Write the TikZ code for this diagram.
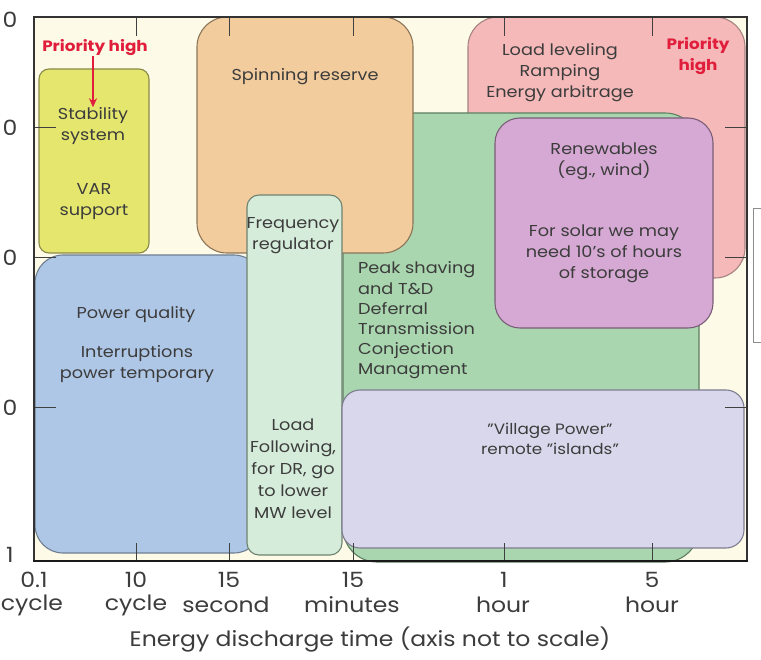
\documentclass[tikz,border=0pt]{standalone}
\usepackage{fontspec}
\setmainfont{Poppins}[FakeStretch=1.12]
\usetikzlibrary{arrows.meta}
\definecolor{bgc}{HTML}{FDFBE7}
\definecolor{yelf}{HTML}{E5E66E}\definecolor{yeld}{HTML}{8A8A48}
\definecolor{orgf}{HTML}{F3CC9E}\definecolor{orgd}{HTML}{8C7458}
\definecolor{pnkf}{HTML}{F5B9B9}\definecolor{pnkd}{HTML}{A68282}
\definecolor{grnf}{HTML}{A9D6AE}\definecolor{grnd}{HTML}{5E7E62}
\definecolor{purf}{HTML}{D5A9D3}\definecolor{purd}{HTML}{7A5E78}
\definecolor{bluf}{HTML}{AFC7E6}\definecolor{blud}{HTML}{6E7E92}
\definecolor{frqf}{HTML}{D6ECDA}\definecolor{frqd}{HTML}{6E8270}
\definecolor{vilf}{HTML}{D9D7EB}\definecolor{vild}{HTML}{7E7C90}
\definecolor{txt}{HTML}{3C3C3C}
\definecolor{prio}{HTML}{E01E3C}
\begin{document}
\begin{tikzpicture}[x=1pt,y=-1pt,
  region/.style={line width=1.1pt},
  lbl/.style={text=txt,inner sep=0pt,align=center,font=\fontsize{15.8}{21}\selectfont},
  prilbl/.style={text=prio,inner sep=0pt,align=center,font=\bfseries\fontsize{15}{21}\selectfont},
  axnum/.style={text=txt,inner sep=0pt,font=\fontsize{21}{24}\selectfont},
  tick/.style={line width=1pt,draw=black!75}]
\useasboundingbox (0,0) rectangle (761,660);
\clip (0,0) rectangle (761,660);
\fill[white] (0,0) rectangle (761,660);
\fill[bgc] (34,17) rectangle (747,561);
% partial box at right edge
\draw[line width=0.8pt,draw=black!45,fill=white] (753,208) rectangle (775,342);
% regions
\draw[region,fill=pnkf,draw=pnkd,rounded corners=30pt] (468,17) rectangle (745,278);
\draw[region,fill=grnf,draw=grnd,rounded corners=34pt] (343,113) rectangle (699,562);
\draw[region,fill=orgf,draw=orgd,rounded corners=30pt] (197,17) rectangle (413,253);
\draw[region,fill=yelf,draw=yeld,rounded corners=10pt] (39,69) rectangle (149,253);
\draw[region,fill=purf,draw=purd,rounded corners=25pt] (495,118) rectangle (713,328);
\draw[region,fill=bluf,draw=blud,rounded corners=28pt] (35,255) rectangle (262,553);
\draw[region,fill=frqf,draw=frqd,rounded corners=12pt] (247,195) rectangle (342,555);
\draw[region,fill=vilf,draw=vild,rounded corners=18pt] (342,390) rectangle (744,548);
% ticks
\foreach \tx in {136,229,353,504,652}{
  \draw[tick] (\tx,17) -- (\tx,36);
  \draw[tick] (\tx,562) -- (\tx,543);
}
\foreach \ty in {128,258,408}{
  \draw[tick] (34,\ty) -- (56,\ty);
  \draw[tick] (747,\ty) -- (725,\ty);
}
% frame
\draw[line width=1.6pt,draw=black!80] (34,17) rectangle (747,561);
\draw[line width=2.2pt,draw=black!90] (33,561) -- (748,561);
% y labels
\node[axnum] (y1) at (10,20) {0};
\node[axnum] (y2) at (10,128) {0};
\node[axnum] (y3) at (10,258) {0};
\node[axnum] (y4) at (10,408) {0};
\node[axnum] (y5) at (10,555) {1};
% x labels
\node[axnum] (x1a) at (34,580) {0.1};
\node[axnum] (x1b) at (32,605) {cycle};
\node[axnum] (x2a) at (136,580) {10};
\node[axnum] (x2b) at (136,605) {cycle};
\node[axnum] (x3a) at (229,580) {15};
\node[axnum] (x3b) at (226,605) {second};
\node[axnum] (x4a) at (353,580) {15};
\node[axnum] (x4b) at (352,605) {minutes};
\node[axnum] (x5a) at (504,580) {1};
\node[axnum] (x5b) at (503,605) {hour};
\node[axnum] (x6a) at (652,580) {5};
\node[axnum] (x6b) at (652,605) {hour};
\node[axnum] (xt) at (370,640) {Energy discharge time (axis not to scale)};
% region texts
\node[prilbl] (ph1) at (95,48) {Priority high};
\node[lbl] (stab) at (93,126) {Stability\\system};
\node[lbl] (var) at (94,202) {VAR\\support};
\draw[prio,line width=1.6pt,-{Stealth[length=9pt,width=8pt]}] (ph1.south -| stab.north) -- (stab.north);
\node[lbl] (spin) at (305,77) {Spinning reserve};
\node[lbl] (load) at (560,73) {Load leveling\\Ramping\\Energy arbitrage};
\node[prilbl] (ph2) at (698,56) {Priority\\high};
\node[lbl] (ren) at (604,161) {Renewables\\(eg., wind)};
\node[lbl] (sol) at (604,254) {For solar we may\\need 10's of hours\\of storage};
\node[lbl,anchor=west,align=left,font=\fontsize{15.8}{20.2}\selectfont] (peak) at (358,320.5) {Peak shaving\\and T\&D\\Deferral\\Transmission\\Conjection\\Managment};
\node[lbl] (pq) at (136,315) {Power quality};
\node[lbl] (intr) at (137,364) {Interruptions\\power temporary};
\node[lbl] (freq) at (293,236) {Frequency\\regulator};
\node[lbl,font=\fontsize{15.8}{22}\selectfont] (lf) at (293,469) {Load\\Following,\\for DR, go\\to lower\\MW level};
\node[lbl,font=\fontsize{15}{20}\selectfont] (vil) at (550,439) {"Village Power"\\remote "islands"};
\end{tikzpicture}
\end{document}
